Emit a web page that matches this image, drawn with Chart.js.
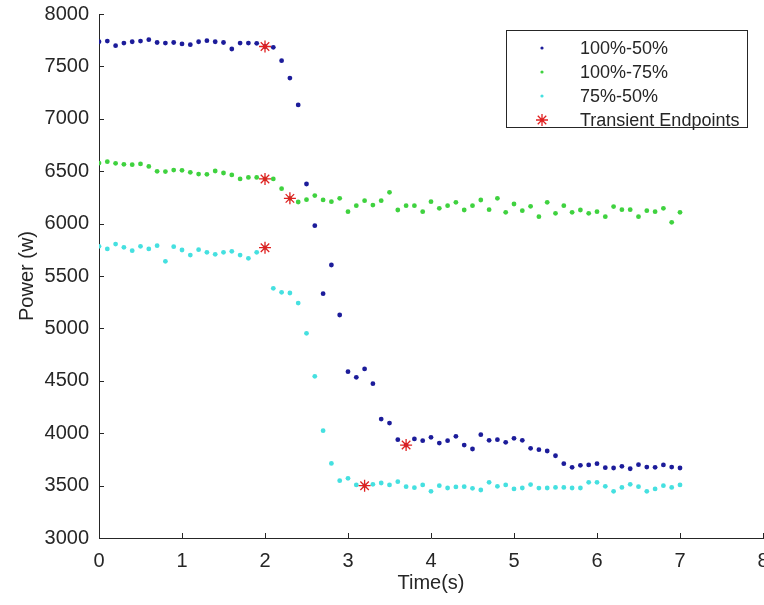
<!DOCTYPE html>
<html>
<head>
<meta charset="utf-8">
<script src="https://cdn.jsdelivr.net/npm/chart.js@4/dist/chart.umd.min.js"></script>
<style>
  html, body { margin: 0; padding: 0; background: #ffffff; }
  canvas { display: block; }
</style>
</head>
<body>
<canvas id="c" width="764" height="605"></canvas>
<script>
// Sample times (s)
const times = [
  0.0, 0.1, 0.2, 0.3, 0.4, 0.5, 0.6, 0.7, 0.8, 0.9,
  1.0, 1.1, 1.2, 1.3, 1.4, 1.5, 1.6, 1.7, 1.8, 1.9,
  2.0, 2.1, 2.2, 2.3, 2.4, 2.5, 2.6, 2.7, 2.8, 2.9,
  3.0, 3.1, 3.2, 3.3, 3.4, 3.5, 3.6, 3.7, 3.8, 3.9,
  4.0, 4.1, 4.2, 4.3, 4.4, 4.5, 4.6, 4.7, 4.8, 4.9,
  5.0, 5.1, 5.2, 5.3, 5.4, 5.5, 5.6, 5.7, 5.8, 5.9,
  6.0, 6.1, 6.2, 6.3, 6.4, 6.5, 6.6, 6.7, 6.8, 6.9,
  7.0
];

// Power (W), step 100% -> 50%
const power100to50 = [
  7735, 7742, 7698, 7723, 7735, 7742, 7755, 7728, 7723, 7728,
  7714, 7707, 7735, 7745, 7735, 7728, 7666, 7723, 7723, 7720,
  7690, 7682, 7555, 7389, 7132, 6378, 5980, 5331, 5605, 5128,
  4587, 4533, 4613, 4473, 4135, 4097, 3938, 3887, 3945, 3929,
  3961, 3906, 3929, 3970, 3887, 3849, 3986, 3932, 3938, 3913,
  3951, 3932, 3856, 3843, 3830, 3785, 3709, 3674, 3693, 3697,
  3709, 3671, 3668, 3684, 3661, 3700, 3677, 3674, 3697, 3677,
  3668
];

// Power (W), step 100% -> 75%
const power100to75 = [
  6578, 6591, 6575, 6566, 6562, 6569, 6546, 6499, 6496, 6511,
  6508, 6489, 6473, 6470, 6502, 6483, 6464, 6426, 6441, 6441,
  6426, 6426, 6333, 6241, 6206, 6228, 6267, 6226, 6209, 6241,
  6114, 6171, 6219, 6177, 6219, 6298, 6130, 6171, 6171, 6114,
  6209, 6146, 6171, 6203, 6130, 6171, 6225, 6133, 6241, 6108,
  6187, 6123, 6165, 6066, 6203, 6098, 6171, 6108, 6130, 6098,
  6114, 6066, 6162, 6133, 6133, 6066, 6123, 6114, 6146, 6012,
  6108
];

// Power (W), step 75% -> 50%
const power75to50 = [
  5783, 5758, 5805, 5774, 5742, 5783, 5758, 5789, 5640, 5780,
  5748, 5700, 5751, 5726, 5707, 5726, 5735, 5700, 5669, 5726,
  5770, 5382, 5344, 5338, 5242, 4953, 4543, 4024, 3712, 3547,
  3569, 3506, 3499, 3512, 3525, 3506, 3537, 3490, 3480, 3506,
  3445, 3499, 3477, 3487, 3490, 3474, 3458, 3531, 3493, 3506,
  3468, 3477, 3510, 3476, 3477, 3483, 3483, 3477, 3477, 3531,
  3531, 3493, 3445, 3483, 3512, 3490, 3445, 3468, 3499, 3483,
  3506
];

// Start / end of each transient
const endpointTimes = [2.0, 2.0, 2.0, 2.3, 3.2, 3.7];
const endpointPower = [7690, 6426, 5770, 6241, 3499, 3887];

// Axis ticks
const xTicks = [0, 1, 2, 3, 4, 5, 6, 7, 8];
const yTicks = [3000, 3500, 4000, 4500, 5000, 5500, 6000, 6500, 7000, 7500, 8000];

const seriesLabels = ['100%-50%', '100%-75%', '75%-50%', 'Transient Endpoints'];

const toPoints = (xs, ys) => xs.map((x, i) => ({ x: x, y: ys[i] }));

const AXIS_COLOR = '#262626';
const FONT = '"Liberation Sans", Arial, Helvetica, sans-serif';

const dotSet = (label, values, color) => ({
  label: label,
  data: toPoints(times, values),
  pointStyle: 'circle',
  pointRadius: 2.4,
  pointHoverRadius: 2.4,
  pointBorderWidth: 0,
  backgroundColor: color,
  borderColor: color,
  showLine: false,
  order: 1
});

// Inward tick marks on the left and bottom axes
const innerTicks = {
  id: 'innerTicks',
  afterDatasetsDraw(chart) {
    const { ctx, chartArea: a, scales: { x, y } } = chart;
    ctx.save();
    ctx.strokeStyle = AXIS_COLOR;
    ctx.lineWidth = 1;
    ctx.beginPath();
    x.ticks.forEach((t, i) => {
      const px = Math.round(x.getPixelForTick(i)) + 0.5;
      ctx.moveTo(px, a.bottom);
      ctx.lineTo(px, a.bottom - 5);
    });
    y.ticks.forEach((t, i) => {
      const py = Math.round(y.getPixelForTick(i)) + 0.5;
      ctx.moveTo(a.left, py);
      ctx.lineTo(a.left + 5, py);
    });
    ctx.stroke();
    ctx.restore();
  }
};

// Boxed legend in the upper right of the plot area
const boxLegend = {
  id: 'boxLegend',
  afterDraw(chart) {
    const { ctx, chartArea: a } = chart;
    const w = 241, h = 97;
    const right = a.right - 16, top = a.top + 16, left = right - w;
    ctx.save();
    ctx.fillStyle = '#ffffff';
    ctx.fillRect(left, top, w, h);
    ctx.strokeStyle = AXIS_COLOR;
    ctx.lineWidth = 1;
    ctx.strokeRect(Math.round(left) + 0.5, Math.round(top) + 0.5, w, h);
    chart.data.datasets.forEach((ds, i) => {
      const cy = top + 18 + i * 24;
      const cx = left + 36;
      ctx.fillStyle = ds.backgroundColor;
      ctx.strokeStyle = ds.borderColor;
      ctx.lineWidth = ds.pointBorderWidth || 0;
      const r = ds.pointStyle === 'star' ? ds.pointRadius : 1.6;
      Chart.helpers.drawPoint(ctx, {
        pointStyle: ds.pointStyle, radius: r, rotation: 0,
        borderWidth: ds.pointBorderWidth || 0
      }, cx, cy);
      ctx.fillStyle = AXIS_COLOR;
      ctx.font = '18px ' + FONT;
      ctx.textAlign = 'left';
      ctx.textBaseline = 'middle';
      ctx.fillText(ds.label, left + 74, cy + 1);
    });
    ctx.restore();
  }
};

new Chart(document.getElementById('c'), {
  type: 'scatter',
  data: {
    datasets: [
      dotSet(seriesLabels[0], power100to50, '#1c1c9a'),
      dotSet(seriesLabels[1], power100to75, '#3fd23f'),
      dotSet(seriesLabels[2], power75to50, '#45e0e0'),
      {
        label: seriesLabels[3],
        data: toPoints(endpointTimes, endpointPower),
        pointStyle: 'star',
        pointRadius: 6,
        pointHoverRadius: 6,
        pointBorderWidth: 1.3,
        backgroundColor: '#e02020',
        borderColor: '#e02020',
        showLine: false,
        order: 0
      }
    ]
  },
  options: {
    responsive: false,
    animation: false,
    events: [],
    layout: { autoPadding: false, padding: { top: 14, right: 1, left: 0, bottom: 0 } },
    plugins: { legend: { display: false }, tooltip: { enabled: false } },
    scales: {
      x: {
        type: 'linear',
        min: 0, max: 8,
        afterBuildTicks: s => { s.ticks = xTicks.map(v => ({ value: v })); },
        afterFit: s => { s.height = 67; s.paddingLeft = 0; s.paddingRight = 0; },
        grid: { display: true, drawOnChartArea: false, drawTicks: false },
        border: { display: true, color: AXIS_COLOR, width: 1 },
        ticks: {
          padding: 11, maxRotation: 0, autoSkip: false,
          color: AXIS_COLOR, font: { family: FONT, size: 20 },
          callback: v => String(v)
        },
        title: {
          display: true, text: 'Time(s)', color: AXIS_COLOR,
          font: { family: FONT, size: 20 }, padding: { top: 0, bottom: 10 }
        }
      },
      y: {
        type: 'linear',
        min: 3000, max: 8000,
        afterBuildTicks: s => { s.ticks = yTicks.map(v => ({ value: v })); },
        afterFit: s => { s.width = 99; s.paddingTop = 0; s.paddingBottom = 0; },
        grid: { display: true, drawOnChartArea: false, drawTicks: false },
        border: { display: true, color: AXIS_COLOR, width: 1 },
        ticks: {
          padding: 10, autoSkip: false,
          color: AXIS_COLOR, font: { family: FONT, size: 20 },
          callback: v => String(v)
        },
        title: {
          display: true, text: 'Power (w)', color: AXIS_COLOR,
          font: { family: FONT, size: 20 }, padding: { top: 15, bottom: 0 }
        }
      }
    }
  },
  plugins: [innerTicks, boxLegend]
});
</script>
</body>
</html>
